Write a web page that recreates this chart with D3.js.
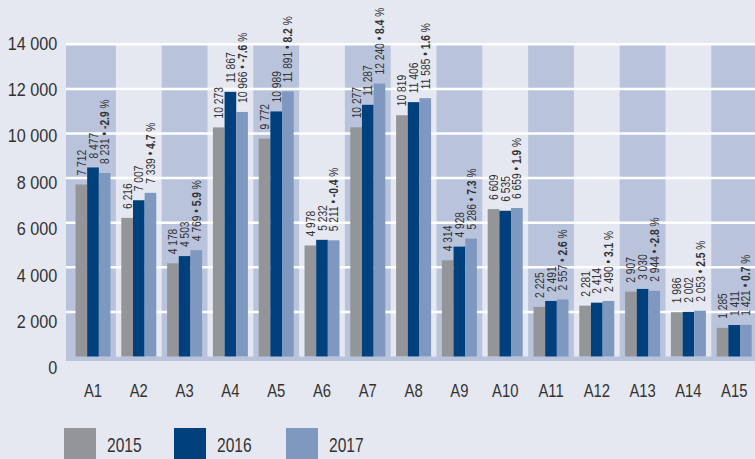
<!DOCTYPE html>
<html>
<head>
<meta charset="utf-8">
<script src="https://cdn.jsdelivr.net/npm/d3@7"></script>
<style>
  html, body { margin: 0; padding: 0; background: #e5e8f1; }
  svg { display: block; }
  text { font-family: "Liberation Sans", Arial, sans-serif; fill: #333; }
</style>
</head>
<body>
<svg id="chart" width="755" height="459"></svg>
<script>
const categories = ["A1","A2","A3","A4","A5","A6","A7","A8","A9","A10","A11","A12","A13","A14","A15"];
const years = ["2015","2016","2017"];
const values2015 = [7712, 6216, 4178, 10273, 9772, 4978, 10277, 10819, 4314, 6609, 2225, 2281, 2907, 1986, 1285];
const values2016 = [8477, 7007, 4503, 11867, 10989, 5232, 11287, 11406, 4928, 6535, 2491, 2414, 3030, 2002, 1411];
const values2017 = [8231, 7339, 4769, 10966, 11891, 5211, 12240, 11585, 5286, 6659, 2557, 2490, 2944, 2053, 1421];
const changes = [-2.9, 4.7, 5.9, -7.6, 8.2, -0.4, 8.4, 1.6, 7.3, 1.9, 2.6, 3.1, -2.8, 2.5, 0.7];
const yTicks = [0, 2000, 4000, 6000, 8000, 10000, 12000, 14000];

const colors = { "2015": "#939598", "2016": "#00407c", "2017": "#7f98c0" };
const bandColor = "#b9c4dc";

const series = { "2015": values2015, "2016": values2016, "2017": values2017 };

const svg = d3.select("#chart");
const W = 755;
const plotLeft = 66, plotTop = 44.3, plotBottom = 361;

const x = d3.scaleBand().domain(categories).range([70.1, 757.1]).paddingInner(0).paddingOuter(0);
const xInner = d3.scaleBand().domain(years).range([-17.5, 17.5]).padding(0);
const y = d3.scaleLinear().domain([0, 14000]).range([356.5, 44.3]);
const yLabel = d3.scaleLinear().domain([0, 14000]).range([368, 43.5]);

const fmt = v => d3.format(",")(v).replace(/,/g, " ");
const fmtPct = v => d3.format(".1f")(v).replace("\u2212", "-");

// alternating bands
svg.append("g").selectAll("rect")
  .data(categories.filter((c, i) => i % 2 === 0))
  .join("rect")
  .attr("x", c => c === categories[0] ? plotLeft : x(c))
  .attr("width", c => c === categories[0] ? x(c) + x.bandwidth() - plotLeft : x.bandwidth())
  .attr("y", plotTop)
  .attr("height", plotBottom - plotTop)
  .attr("fill", bandColor);

// bottom strip
svg.append("rect")
  .attr("x", plotLeft).attr("width", W - plotLeft)
  .attr("y", y(0)).attr("height", plotBottom - y(0))
  .attr("fill", bandColor);

// gridlines
svg.append("g").selectAll("line")
  .data(yTicks.filter(t => t > 0))
  .join("line")
  .attr("x1", plotLeft).attr("x2", W)
  .attr("y1", d => y(d)).attr("y2", d => y(d))
  .attr("stroke", "#ffffff").attr("stroke-width", 2.5);

// y axis labels
const yAxis = svg.append("g")
  .attr("transform", "translate(60,0)")
  .call(d3.axisLeft(yLabel).tickValues(yTicks).tickSize(0).tickPadding(3).tickFormat(fmt));
yAxis.select(".domain").remove();
yAxis.selectAll("text").style("font-size", "18px").attr("fill", "#333").attr("transform", "scale(0.9,1)");

// x axis labels
const xAxis = svg.append("g")
  .attr("transform", "translate(0,384)")
  .call(d3.axisBottom(x).tickSize(0).tickPadding(0));
xAxis.select(".domain").remove();
xAxis.selectAll("text").style("font-size", "18.5px").attr("fill", "#333").attr("transform", "scale(0.8,1)");

// bars
const groups = svg.append("g").selectAll("g")
  .data(categories)
  .join("g")
  .attr("transform", c => `translate(${x(c) + x.bandwidth() / 2},0)`);

groups.each(function(c, i) {
  const g = d3.select(this);
  years.forEach(yr => {
    const v = series[yr][i];
    g.append("rect")
      .attr("x", xInner(yr))
      .attr("width", xInner.bandwidth())
      .attr("y", y(v))
      .attr("height", y(0) - y(v))
      .attr("fill", colors[yr]);
    const t = g.append("text")
      .attr("transform", `translate(${xInner(yr) + xInner.bandwidth() / 2},${y(v) - 9}) rotate(-90) scale(0.82,1)`)
      .attr("dy", "0.36em")
      .attr("text-anchor", "start")
      .style("font-size", "12.5px");
    t.append("tspan").text(fmt(v));
    if (yr === "2017") {
      t.append("tspan").text(" \u2022 ");
      t.append("tspan").style("font-weight", "bold").text(fmtPct(changes[i]));
      t.append("tspan").text(" %");
    }
  });
});

// legend
const legend = svg.append("g").selectAll("g")
  .data(years)
  .join("g")
  .attr("transform", (d, i) => `translate(${[64, 174, 286][i]},428)`);
legend.append("rect").attr("width", 32).attr("height", 40).attr("fill", d => colors[d]);
legend.append("text").attr("transform", "translate(43,23.5) scale(0.78,1)").style("font-size", "20px").text(d => d);
</script>
</body>
</html>
